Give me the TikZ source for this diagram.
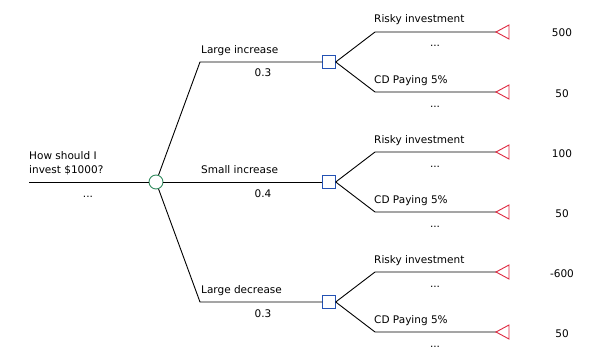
\documentclass[tikz,border=0pt]{standalone}
\usepackage{fontspec}
\setmainfont{DejaVu Sans}
\definecolor{chancegreen}{RGB}{52,140,96}
\definecolor{decblue}{RGB}{36,82,180}
\definecolor{endred}{RGB}{222,40,64}

\begin{document}
\begin{tikzpicture}[x=1pt,y=-1pt,font=\fontsize{10.5}{14}\selectfont,
    branch/.style={line width=0.9pt},
    chance/.style={circle,draw=chancegreen,line width=0.9pt,fill=white,minimum size=14pt,inner sep=0},
    decision/.style={rectangle,draw=decblue,line width=0.9pt,fill=white,minimum size=12.5pt,inner sep=0},
    endtri/.style={draw=endred,line width=0.9pt},
    lbl/.style={inner sep=0,anchor=base west},
    val/.style={inner sep=0,anchor=base}]
        \useasboundingbox (0,0) rectangle (602,361);

        % root and chance node
        \coordinate (start) at (29,182);
        \node[chance] (root) at (156,182) {};
        \node[lbl] (q1) at (29,159) {How should I};
        \node[lbl] (q2) at (29,173) {invest \$1000?};
        \node[val] (qdots) at (88,197) {...};
        \draw[branch] (start) -- (root);

        % chance branches
        \coordinate (k1) at (200,62);
        \coordinate (k2) at (200,182);
        \coordinate (k3) at (200,302);
        \node[decision] (d1) at (329,62) {};
        \node[decision] (d2) at (329,182) {};
        \node[decision] (d3) at (329,302) {};
        \draw[branch] (root) -- (k1) -- (d1);
        \draw[branch] (root) -- (d2);
        \draw[branch] (root) -- (k3) -- (d3);
        \node[lbl] (b1) at (201,53) {Large increase};
        \node[lbl] (b2) at (201,173) {Small increase};
        \node[lbl] (b3) at (201,293) {Large decrease};
        \node[val] (p1) at (263,77) {0.3};
        \node[val] (p2) at (263,197) {0.4};
        \node[val] (p3) at (263,317) {0.3};

        % decision branches, upper
        \coordinate (r1) at (375,32);
        \coordinate (c1) at (375,92);
        \coordinate (tr1) at (496,32);
        \coordinate (tc1) at (496,92);
        \draw[branch] (d1.east) -- (r1) -- (tr1);
        \draw[branch] (d1.east) -- (c1) -- (tc1);
        \node[lbl] at (374,23) {Risky investment};
        \node[val] at (435,47) {...};
        \node[lbl] at (374,83) {CD Paying 5\%};
        \node[val] at (435,107) {...};

        % decision branches, middle
        \coordinate (r2) at (375,152);
        \coordinate (c2) at (375,212);
        \coordinate (tr2) at (496,152);
        \coordinate (tc2) at (496,212);
        \draw[branch] (d2.east) -- (r2) -- (tr2);
        \draw[branch] (d2.east) -- (c2) -- (tc2);
        \node[lbl] at (374,143) {Risky investment};
        \node[val] at (435,167) {...};
        \node[lbl] at (374,203) {CD Paying 5\%};
        \node[val] at (435,227) {...};

        % decision branches, lower
        \coordinate (r3) at (375,272);
        \coordinate (c3) at (375,332);
        \coordinate (tr3) at (496,272);
        \coordinate (tc3) at (496,332);
        \draw[branch] (d3.east) -- (r3) -- (tr3);
        \draw[branch] (d3.east) -- (c3) -- (tc3);
        \node[lbl] at (374,263) {Risky investment};
        \node[val] at (435,287) {...};
        \node[lbl] at (374,323) {CD Paying 5\%};
        \node[val] at (435,347) {...};

        % end nodes
        \draw[endtri] (tr1) -- ++(13,-7) -- ++(0,14) -- cycle;
        \draw[endtri] (tc1) -- ++(13,-7) -- ++(0,14) -- cycle;
        \draw[endtri] (tr2) -- ++(13,-7) -- ++(0,14) -- cycle;
        \draw[endtri] (tc2) -- ++(13,-7) -- ++(0,14) -- cycle;
        \draw[endtri] (tr3) -- ++(13,-7) -- ++(0,14) -- cycle;
        \draw[endtri] (tc3) -- ++(13,-7) -- ++(0,14) -- cycle;
        \node[val] (v1) at (562,37) {500};
        \node[val] (v2) at (562,97) {50};
        \node[val] (v3) at (562,157) {100};
        \node[val] (v4) at (562,217) {50};
        \node[val] (v5) at (562,277) {-600};
        \node[val] (v6) at (562,337) {50};
    \end{tikzpicture}
\end{document}
